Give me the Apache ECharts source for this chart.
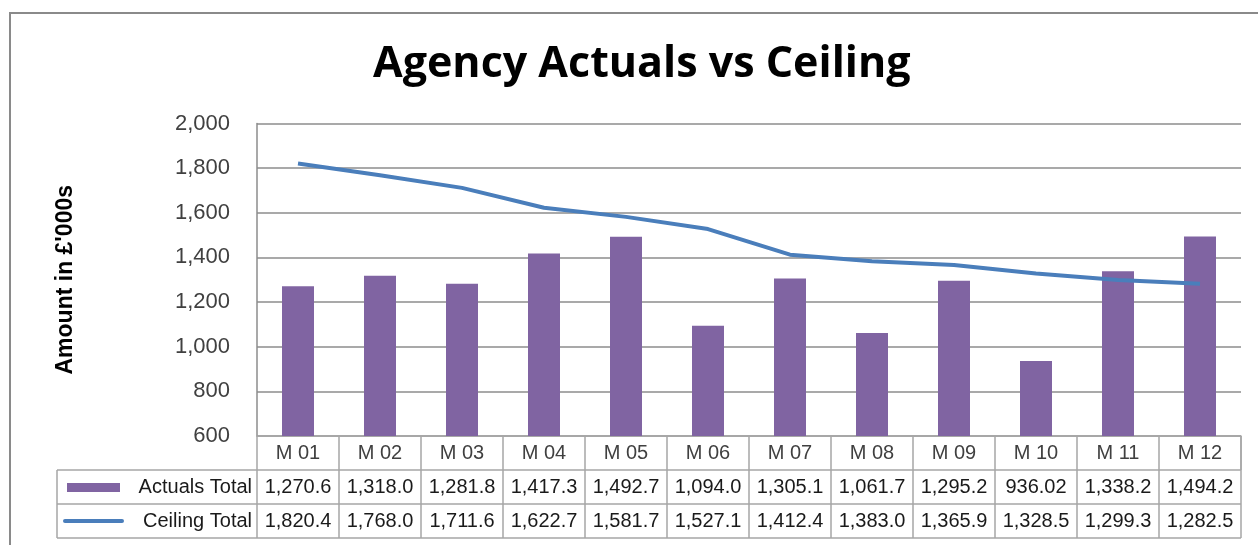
<!DOCTYPE html>
<html>
<head>
<meta charset="utf-8">
<script src="https://cdn.jsdelivr.net/npm/echarts@6/dist/echarts.min.js"></script>
<style>
html, body { margin: 0; padding: 0; background: #fff; }
#main { width: 1258px; height: 545px; }
</style>
</head>
<body>
<div id="main"></div>
<script>
// months
const months = ['M 01', 'M 02', 'M 03', 'M 04', 'M 05', 'M 06', 'M 07', 'M 08', 'M 09', 'M 10', 'M 11', 'M 12'];
// Actuals Total (£'000s)
const actuals = [1270.6, 1318.0, 1281.8, 1417.3, 1492.7, 1094.0, 1305.1, 1061.7, 1295.2, 936.02, 1338.2, 1494.2];
// Ceiling Total (£'000s)
const ceiling = [1820.4, 1768.0, 1711.6, 1622.7, 1581.7, 1527.1, 1412.4, 1383.0, 1365.9, 1328.5, 1299.3, 1282.5];
// data table texts as shown under the axis
const actualsLabels = ['1,270.6', '1,318.0', '1,281.8', '1,417.3', '1,492.7', '1,094.0', '1,305.1', '1,061.7', '1,295.2', '936.02', '1,338.2', '1,494.2'];
const ceilingLabels = ['1,820.4', '1,768.0', '1,711.6', '1,622.7', '1,581.7', '1,527.1', '1,412.4', '1,383.0', '1,365.9', '1,328.5', '1,299.3', '1,282.5'];
const yTicks = [600, 800, 1000, 1200, 1400, 1600, 1800, 2000];

const PURPLE = '#8064A2';
const BLUE = '#4A7EBB';
const GRID = '#8c8c8c';
const TBL = '#a6a6a6';
const FONT = '"Liberation Sans", Arial, sans-serif';
const ROW = 34;

let chart = echarts.init(document.getElementById('main'));
chart.setOption({
    animation: false,
    title: {
        text: 'Agency Actuals vs Ceiling',
        left: 368,
        top: 38,
        textStyle: { fontFamily: '"Open Sans", sans-serif', fontWeight: 'bold', fontSize: 43, color: '#000' }
    },
    grid: { left: 257, right: 17, top: 123.5, bottom: 109 },
    xAxis: {
        type: 'category',
        data: months,
        axisLine: { show: true, lineStyle: { color: TBL, width: 1.5 } },
        axisTick: { show: true, interval: 0, length: ROW, lineStyle: { color: TBL, width: 1.5 } },
        axisLabel: { interval: 0, margin: 17, verticalAlign: 'middle', fontFamily: FONT, fontSize: 20, color: '#404040' }
    },
    yAxis: {
        type: 'value',
        min: 600,
        max: 2000,
        interval: 200,
        name: 'Amount in £\'000s',
        nameLocation: 'middle',
        nameRotate: 90,
        nameGap: 180,
        nameTextStyle: { fontFamily: FONT, fontWeight: 'bold', fontSize: 23, color: '#000' },
        axisLine: { show: true, lineStyle: { color: GRID, width: 1.5 } },
        axisTick: { show: false },
        axisLabel: {
            margin: 27, fontFamily: FONT, fontSize: 22, color: '#404040',
            formatter: v => yTicks.includes(v) ? v.toLocaleString('en-GB') : ''
        },
        splitLine: { show: true, lineStyle: { color: GRID, width: 1.5 } }
    },
    series: [
        {
            name: 'Actuals Total',
            type: 'bar',
            data: actuals,
            barWidth: 32,
            itemStyle: { color: PURPLE }
        },
        {
            name: 'Ceiling Total',
            type: 'line',
            data: ceiling,
            symbol: 'none',
            lineStyle: { color: BLUE, width: 4 }
        }
    ]
});

// data table under the plot, laid out from the axes
function drawTable() {
    const c0 = chart.convertToPixel({ xAxisIndex: 0 }, months[0]);
    const c1 = chart.convertToPixel({ xAxisIndex: 0 }, months[1]);
    const w = c1 - c0;
    const left = c0 - w / 2;
    const right = left + w * months.length;
    const axisY = chart.convertToPixel({ yAxisIndex: 0 }, 600);
    const r1 = axisY + ROW, r2 = r1 + ROW, r3 = r2 + ROW;
    const keyLeft = 57;
    const els = [];
    const line = (x1, y1, x2, y2) => els.push({
        type: 'line', shape: { x1, y1, x2, y2 }, style: { stroke: TBL, lineWidth: 1.5 }, silent: true
    });
    const text = (t, x, y, align, color) => els.push({
        type: 'text', style: { text: t, x, y, align: align, verticalAlign: 'middle', font: '20px ' + FONT, fill: color }, silent: true
    });

    line(keyLeft, r1, right, r1);
    line(keyLeft, r2, right, r2);
    line(keyLeft, r3, right, r3);
    line(keyLeft, r1, keyLeft, r3);
    for (let i = 0; i <= months.length; i++) {
        line(left + i * w, r1, left + i * w, r3);
    }
    line(right, axisY, right, r1);

    // legend keys
    els.push({ type: 'rect', shape: { x: 67, y: r1 + ROW / 2 - 4, width: 53, height: 9 }, style: { fill: PURPLE }, silent: true });
    els.push({ type: 'line', shape: { x1: 65, y1: r2 + ROW / 2, x2: 122, y2: r2 + ROW / 2 }, style: { stroke: BLUE, lineWidth: 4, lineCap: 'round' }, silent: true });
    text('Actuals Total', left - 5, r1 + ROW / 2, 'right', '#1a1a1a');
    text('Ceiling Total', left - 5, r2 + ROW / 2, 'right', '#1a1a1a');

    for (let i = 0; i < months.length; i++) {
        const cx = chart.convertToPixel({ xAxisIndex: 0 }, months[i]);
        text(actualsLabels[i], cx, r1 + ROW / 2, 'center', '#1a1a1a');
        text(ceilingLabels[i], cx, r2 + ROW / 2, 'center', '#1a1a1a');
    }

    // outer chart border
    els.push({ type: 'rect', shape: { x: 10, y: 13, width: 1300, height: 600 }, style: { fill: 'none', stroke: '#8a8a8a', lineWidth: 2 }, silent: true });

    chart.setOption({ graphic: els });
}
drawTable();
</script>
</body>
</html>
